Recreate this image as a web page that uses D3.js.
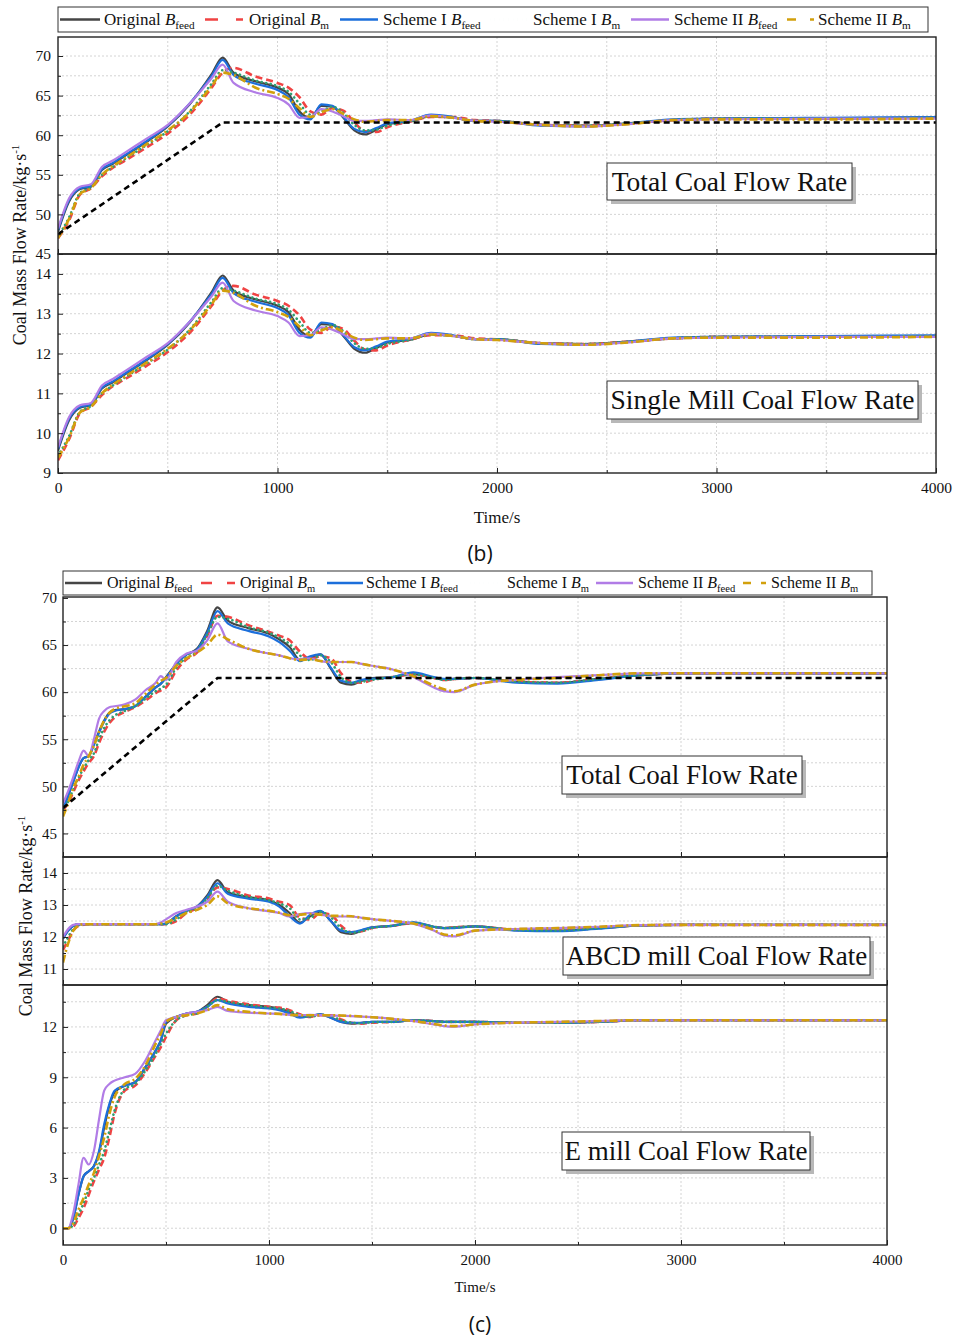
<!DOCTYPE html>
<html>
<head>
<meta charset="utf-8">
<script src="https://cdn.jsdelivr.net/npm/d3@7"></script>
<style>
  body { margin: 0; background: #fff; }
  svg { display: block; }
  text { font-family: "Liberation Serif", "Times New Roman", serif; fill: #111; }
</style>
</head>
<body>
<div id="chart"></div>
<script>
// ---- series ----
const seriesNames = ["Original", "Original", "Scheme I", "Scheme I", "Scheme II", "Scheme II"];
const seriesSubs = ["feed", "m", "feed", "m", "feed", "m"];
const seriesColors = ["#454545", "#f04343", "#1c6fdb", "#2f9f72", "#b17ce6", "#d2a00c"];
const seriesDash = [null, "7,4", null, "0.1,4.5", null, "8,3,2,3"];

// ---- figure (b) ----
const timeB = [0, 50, 100, 150, 200, 250, 300, 400, 500, 600, 700, 750, 800, 900, 1000, 1050, 1100, 1150, 1200, 1250, 1300, 1350, 1400, 1450, 1500, 1600, 1700, 1800, 1900, 2000, 2200, 2400, 2600, 2800, 3000, 3500, 4000];
const totalB = [
  [47.8, 51.6, 53.2, 53.5, 55.6, 56.4, 57.3, 59.1, 61.1, 63.9, 67.7, 69.8, 67.9, 66.8, 66.0, 65.2, 63.0, 62.2, 63.7, 63.6, 62.2, 60.6, 60.1, 60.7, 61.4, 61.7, 62.4, 62.2, 61.8, 61.8, 61.3, 61.2, 61.5, 61.9, 62.1, 62.1, 62.2],
  [47.0, 49.2, 52.5, 53.3, 54.8, 55.9, 56.7, 58.4, 60.2, 62.6, 66.0, 67.9, 68.5, 67.4, 66.6, 66.0, 64.8, 63.0, 62.6, 63.4, 63.1, 61.6, 60.5, 60.4, 61.0, 61.7, 62.3, 62.3, 61.9, 61.8, 61.3, 61.2, 61.5, 61.9, 62.1, 62.1, 62.2],
  [48.0, 51.8, 53.3, 53.6, 55.7, 56.5, 57.4, 59.2, 61.2, 64.0, 67.5, 69.5, 67.6, 66.5, 65.7, 64.8, 62.6, 62.0, 63.9, 63.7, 62.3, 60.8, 60.4, 60.9, 61.5, 61.8, 62.6, 62.3, 61.8, 61.8, 61.2, 61.1, 61.5, 62.0, 62.1, 62.2, 62.3],
  [47.2, 49.6, 52.7, 53.4, 55.0, 56.0, 56.9, 58.7, 60.5, 63.0, 66.5, 68.2, 67.9, 66.9, 66.2, 65.5, 64.0, 62.6, 63.0, 63.6, 62.8, 61.3, 60.6, 60.7, 61.2, 61.7, 62.4, 62.2, 61.8, 61.8, 61.3, 61.2, 61.5, 61.9, 62.1, 62.1, 62.2],
  [48.2, 52.0, 53.5, 53.8, 56.0, 56.8, 57.7, 59.5, 61.3, 64.0, 67.2, 68.9, 66.6, 65.4, 64.7, 63.9, 62.2, 62.3, 63.3, 63.0, 62.4, 61.8, 61.8, 61.9, 62.0, 61.9, 62.5, 62.2, 61.8, 61.7, 61.3, 61.1, 61.4, 61.9, 62.0, 62.1, 62.1],
  [47.0, 49.4, 52.6, 53.3, 55.0, 56.1, 57.0, 58.8, 60.6, 62.9, 66.2, 67.9, 67.6, 66.0, 65.2, 64.6, 63.4, 62.3, 62.9, 63.3, 62.7, 62.0, 61.7, 61.8, 61.9, 61.9, 62.4, 62.2, 61.8, 61.7, 61.3, 61.1, 61.4, 61.9, 62.0, 62.0, 62.1]
];
const singleB = [
  [9.56, 10.32, 10.64, 10.70, 11.12, 11.28, 11.46, 11.82, 12.22, 12.78, 13.54, 13.96, 13.58, 13.36, 13.20, 13.04, 12.60, 12.44, 12.74, 12.72, 12.44, 12.12, 12.02, 12.14, 12.28, 12.34, 12.48, 12.44, 12.36, 12.36, 12.26, 12.24, 12.30, 12.38, 12.42, 12.42, 12.44],
  [9.32, 9.84, 10.50, 10.66, 10.96, 11.18, 11.34, 11.68, 12.04, 12.52, 13.20, 13.58, 13.70, 13.48, 13.32, 13.20, 12.96, 12.60, 12.52, 12.68, 12.62, 12.32, 12.10, 12.08, 12.20, 12.34, 12.46, 12.46, 12.38, 12.36, 12.26, 12.24, 12.30, 12.38, 12.42, 12.42, 12.44],
  [9.60, 10.36, 10.66, 10.72, 11.14, 11.30, 11.48, 11.84, 12.24, 12.80, 13.50, 13.90, 13.52, 13.30, 13.14, 12.96, 12.52, 12.40, 12.78, 12.74, 12.46, 12.16, 12.08, 12.18, 12.30, 12.36, 12.52, 12.46, 12.36, 12.36, 12.24, 12.22, 12.30, 12.40, 12.42, 12.44, 12.46],
  [9.44, 9.92, 10.54, 10.68, 11.00, 11.20, 11.38, 11.74, 12.10, 12.60, 13.30, 13.64, 13.58, 13.38, 13.24, 13.10, 12.80, 12.52, 12.60, 12.72, 12.56, 12.26, 12.12, 12.14, 12.24, 12.34, 12.48, 12.44, 12.36, 12.36, 12.26, 12.24, 12.30, 12.38, 12.42, 12.42, 12.44],
  [9.64, 10.40, 10.70, 10.76, 11.20, 11.36, 11.54, 11.90, 12.26, 12.80, 13.44, 13.78, 13.32, 13.08, 12.94, 12.78, 12.44, 12.46, 12.66, 12.60, 12.48, 12.36, 12.36, 12.38, 12.40, 12.38, 12.50, 12.44, 12.36, 12.34, 12.26, 12.22, 12.28, 12.38, 12.40, 12.42, 12.42],
  [9.38, 9.88, 10.52, 10.66, 11.00, 11.22, 11.40, 11.76, 12.12, 12.58, 13.24, 13.58, 13.52, 13.20, 13.04, 12.92, 12.68, 12.46, 12.58, 12.66, 12.54, 12.40, 12.34, 12.36, 12.38, 12.38, 12.48, 12.44, 12.36, 12.34, 12.26, 12.22, 12.28, 12.38, 12.40, 12.40, 12.42]
];
const targetTimeB = [0, 750, 4000];
const targetB = [47.5, 61.6, 61.6];

// ---- figure (c) ----
const timeC = [0, 25, 50, 75, 100, 125, 150, 175, 200, 225, 250, 300, 350, 400, 450, 475, 500, 550, 600, 650, 700, 750, 800, 900, 1000, 1050, 1100, 1150, 1200, 1250, 1300, 1350, 1400, 1450, 1500, 1600, 1700, 1800, 1850, 1900, 2000, 2200, 2400, 2600, 2800, 3000, 3500, 4000];
const totalC = [
  [47.6, 49.0, 50.5, 52.0, 53.0, 53.2, 54.5, 55.8, 57.0, 57.8, 58.1, 58.2, 58.5, 59.5, 60.5, 60.9, 61.6, 63.0, 64.0, 64.6, 66.5, 69.0, 67.6, 66.8, 66.2, 65.6, 64.8, 63.4, 63.6, 64.0, 62.5, 61.0, 60.8, 61.2, 61.5, 61.6, 61.9, 61.5, 61.3, 61.4, 61.5, 61.1, 61.0, 61.4, 61.8, 62.0, 62.0, 62.0],
  [47.5, 48.2, 49.4, 50.6, 51.6, 52.5, 53.2, 54.6, 55.8, 56.7, 57.3, 57.9, 58.4, 59.1, 59.9, 60.2, 60.5, 62.3, 63.5, 64.2, 66.0, 68.1, 68.0, 67.1, 66.4, 66.0, 65.5, 64.3, 63.5, 63.8, 63.6, 62.0, 61.1, 61.0, 61.3, 61.6, 61.9, 61.5, 61.3, 61.4, 61.5, 61.1, 61.0, 61.4, 61.8, 62.0, 62.0, 62.0],
  [47.6, 49.0, 50.5, 52.0, 53.0, 53.2, 54.4, 55.7, 56.9, 57.7, 58.0, 58.2, 58.5, 59.5, 60.5, 60.9, 61.5, 63.0, 64.0, 64.5, 66.3, 68.6, 67.3, 66.5, 65.9, 65.3, 64.4, 63.3, 63.8, 64.0, 62.6, 61.2, 61.0, 61.3, 61.4, 61.6, 62.1, 61.6, 61.4, 61.4, 61.5, 61.0, 60.9, 61.3, 61.8, 62.0, 62.0, 62.0],
  [47.5, 48.4, 49.7, 50.9, 51.9, 52.8, 53.5, 55.0, 56.2, 57.0, 57.5, 58.0, 58.5, 59.3, 60.1, 60.4, 60.8, 62.6, 63.7, 64.3, 66.1, 68.0, 67.8, 66.9, 66.3, 65.8, 65.1, 63.9, 63.4, 63.9, 63.2, 61.6, 61.0, 61.1, 61.3, 61.6, 61.9, 61.5, 61.3, 61.4, 61.5, 61.1, 61.0, 61.4, 61.8, 62.0, 62.0, 62.0],
  [48.2, 49.5, 51.0, 52.6, 53.8, 53.2, 55.0, 57.2, 58.0, 58.4, 58.5, 58.7, 59.2, 60.2, 61.0, 61.7, 61.3, 63.2, 64.1, 64.4, 65.5, 67.3, 65.4, 64.6, 64.1, 63.9, 63.6, 63.5, 63.6, 63.3, 63.2, 63.2, 63.2, 63.0, 62.8, 62.4, 61.6, 60.5, 60.1, 60.0, 60.8, 61.3, 61.6, 61.8, 62.0, 62.0, 62.0, 62.0],
  [46.8, 48.2, 49.8, 51.0, 52.3, 53.2, 54.3, 55.8, 57.0, 57.8, 58.2, 58.5, 58.8, 59.8, 60.8, 61.2, 61.5, 62.8, 63.6, 64.2, 65.0, 66.1, 65.6, 64.6, 64.1, 63.9, 63.6, 63.4, 63.5, 63.3, 63.2, 63.2, 63.2, 63.0, 62.8, 62.4, 61.7, 60.7, 60.3, 60.1, 60.8, 61.3, 61.5, 61.8, 62.0, 62.0, 62.0, 62.0]
];
const abcdC = [
  [11.95, 12.2, 12.35, 12.4, 12.4, 12.4, 12.4, 12.4, 12.4, 12.4, 12.4, 12.4, 12.4, 12.4, 12.4, 12.4, 12.42, 12.65, 12.82, 12.95, 13.3, 13.78, 13.4, 13.25, 13.15, 13.0, 12.75, 12.45, 12.65, 12.8, 12.5, 12.15, 12.1, 12.2, 12.3, 12.35, 12.44, 12.32, 12.28, 12.3, 12.33, 12.22, 12.2, 12.28, 12.36, 12.38, 12.38, 12.38],
  [11.6, 11.9, 12.2, 12.35, 12.38, 12.4, 12.4, 12.4, 12.4, 12.4, 12.4, 12.4, 12.4, 12.4, 12.4, 12.4, 12.4, 12.5, 12.75, 12.9, 13.2, 13.55, 13.5, 13.3, 13.2, 13.1, 13.0, 12.6, 12.55, 12.75, 12.7, 12.35, 12.15, 12.18, 12.28, 12.35, 12.44, 12.32, 12.28, 12.3, 12.33, 12.22, 12.2, 12.28, 12.36, 12.38, 12.38, 12.38],
  [11.95, 12.2, 12.35, 12.4, 12.4, 12.4, 12.4, 12.4, 12.4, 12.4, 12.4, 12.4, 12.4, 12.4, 12.4, 12.4, 12.42, 12.65, 12.82, 12.95, 13.25, 13.68, 13.35, 13.2, 13.1, 12.95, 12.65, 12.42, 12.7, 12.82, 12.5, 12.2, 12.15, 12.22, 12.3, 12.35, 12.46, 12.32, 12.28, 12.28, 12.33, 12.2, 12.18, 12.26, 12.36, 12.38, 12.38, 12.38],
  [11.7, 12.0, 12.25, 12.37, 12.4, 12.4, 12.4, 12.4, 12.4, 12.4, 12.4, 12.4, 12.4, 12.4, 12.4, 12.4, 12.4, 12.55, 12.78, 12.9, 13.2, 13.6, 13.45, 13.25, 13.15, 13.05, 12.9, 12.55, 12.6, 12.78, 12.62, 12.28, 12.13, 12.18, 12.28, 12.35, 12.44, 12.32, 12.28, 12.3, 12.33, 12.22, 12.2, 12.28, 12.36, 12.38, 12.38, 12.38],
  [12.0, 12.25, 12.38, 12.4, 12.4, 12.4, 12.4, 12.4, 12.4, 12.4, 12.4, 12.4, 12.4, 12.4, 12.4, 12.45, 12.55, 12.75, 12.85, 12.95, 13.1, 13.42, 13.1, 12.9, 12.8, 12.75, 12.64, 12.72, 12.75, 12.7, 12.65, 12.64, 12.64, 12.6, 12.56, 12.5, 12.42, 12.2, 12.05, 12.02, 12.2, 12.25, 12.28, 12.32, 12.37, 12.38, 12.38, 12.38],
  [11.2, 11.8, 12.2, 12.35, 12.4, 12.4, 12.4, 12.4, 12.4, 12.4, 12.4, 12.4, 12.4, 12.4, 12.4, 12.42, 12.45, 12.6, 12.75, 12.85, 13.0, 13.27, 13.05, 12.9, 12.82, 12.76, 12.68, 12.7, 12.72, 12.7, 12.66, 12.66, 12.65, 12.6, 12.56, 12.5, 12.42, 12.22, 12.08, 12.05, 12.2, 12.25, 12.28, 12.32, 12.37, 12.38, 12.38, 12.38]
];
const eMillC = [
  [0, 0, 0.6, 2.0, 3.1, 3.4, 3.7, 4.5, 6.0, 7.3, 8.1, 8.5, 8.7, 9.6, 10.6, 11.2, 12.2, 12.6, 12.8, 12.9, 13.3, 13.8, 13.5, 13.3, 13.2, 13.1, 12.9, 12.6, 12.65, 12.75, 12.55, 12.3, 12.2, 12.25, 12.3, 12.3, 12.4, 12.35, 12.3, 12.3, 12.3, 12.25, 12.25, 12.3, 12.4, 12.4, 12.4, 12.4],
  [0, 0, 0.1, 0.6, 1.2, 2.0, 2.8, 3.5, 4.2, 5.4, 6.8, 8.2, 8.5, 9.3, 10.3, 10.8, 11.4, 12.4, 12.7, 12.8, 13.2, 13.7, 13.55, 13.35, 13.2, 13.15, 13.0, 12.75, 12.6, 12.7, 12.7, 12.45, 12.25, 12.2, 12.25, 12.3, 12.4, 12.35, 12.3, 12.3, 12.3, 12.25, 12.25, 12.3, 12.4, 12.4, 12.4, 12.4],
  [0, 0, 0.6, 2.0, 3.1, 3.4, 3.7, 4.6, 6.2, 7.4, 8.2, 8.5, 8.7, 9.6, 10.6, 11.2, 12.3, 12.6, 12.8, 12.9, 13.2, 13.6, 13.4, 13.2, 13.1, 13.0, 12.8, 12.55, 12.65, 12.75, 12.55, 12.3, 12.25, 12.25, 12.3, 12.3, 12.4, 12.35, 12.3, 12.3, 12.3, 12.25, 12.25, 12.3, 12.4, 12.4, 12.4, 12.4],
  [0, 0, 0.2, 0.8, 1.5, 2.3, 3.0, 3.8, 4.6, 5.8, 7.0, 8.3, 8.6, 9.4, 10.4, 11.0, 11.6, 12.4, 12.7, 12.8, 13.2, 13.6, 13.5, 13.3, 13.15, 13.1, 12.95, 12.7, 12.6, 12.72, 12.65, 12.4, 12.25, 12.22, 12.28, 12.3, 12.4, 12.35, 12.3, 12.3, 12.3, 12.25, 12.25, 12.3, 12.4, 12.4, 12.4, 12.4],
  [0, 0, 0.9, 2.6, 4.2, 3.8, 4.6, 6.5, 8.2, 8.6, 8.8, 9.0, 9.2, 10.0, 11.2, 11.8, 12.4, 12.6, 12.8, 12.9, 13.0, 13.2, 12.95, 12.85, 12.8, 12.78, 12.72, 12.7, 12.72, 12.7, 12.68, 12.66, 12.65, 12.62, 12.58, 12.48, 12.35, 12.15, 12.05, 12.02, 12.15, 12.25, 12.3, 12.35, 12.4, 12.4, 12.4, 12.4],
  [0, 0, 0.3, 1.1, 1.8, 2.6, 3.3, 4.3, 5.4, 6.8, 7.8, 8.6, 8.9, 9.7, 11.0, 11.6, 12.3, 12.6, 12.7, 12.8, 13.0, 13.3, 13.05, 12.9, 12.8, 12.78, 12.72, 12.7, 12.7, 12.7, 12.7, 12.68, 12.66, 12.62, 12.58, 12.48, 12.35, 12.18, 12.08, 12.05, 12.15, 12.25, 12.3, 12.35, 12.4, 12.4, 12.4, 12.4]
];
const targetTimeC = [0, 750, 4000];
const targetC = [47.7, 61.5, 61.5];

const xTicks = [0, 1000, 2000, 3000, 4000];
const xMinorTicks = [500, 1500, 2500, 3500];

// ---- drawing ----
const W = 954, H = 1340;
const svg = d3.select("#chart").append("svg").attr("width", W).attr("height", H);
let clipId = 0;

function bLabel(textSel, name, sub, fs) {
  textSel.append("tspan").text(name + " ");
  textSel.append("tspan").attr("font-style", "italic").text("B");
  textSel.append("tspan").attr("font-size", fs * 0.66).attr("dy", fs * 0.28).text(sub);
}

function drawLegend(fig) {
  const lg = fig.legend;
  const g = svg.append("g");
  g.append("rect").attr("x", lg.x).attr("y", lg.y).attr("width", lg.w).attr("height", lg.h)
    .attr("fill", "#fff").attr("stroke", "#333").attr("stroke-width", 1);
  const cy = lg.y + lg.h / 2;
  const sampleDash = [null, lg.redDash, null, "0.1,4.5", null, lg.goldDash];
  seriesNames.forEach((name, i) => {
    g.append("line")
      .attr("x1", lg.lines[i][0]).attr("x2", lg.lines[i][1]).attr("y1", cy).attr("y2", cy)
      .attr("stroke", seriesColors[i]).attr("stroke-width", 2.4)
      .attr("stroke-dasharray", sampleDash[i])
      .attr("stroke-opacity", i === 3 ? 0.1 : 1);
    const t = g.append("text").attr("x", lg.text[i]).attr("y", cy + lg.fs * 0.3)
      .attr("font-size", lg.fs);
    bLabel(t, name, seriesSubs[i], lg.fs);
  });
}

function drawPanel(fig, p, x) {
  const y = d3.scaleLinear().domain(p.domain).range([p.bottom, p.top]);
  const g = svg.append("g");
  const id = "clip" + (clipId++);
  svg.append("clipPath").attr("id", id).append("rect")
    .attr("x", fig.left).attr("y", p.top).attr("width", fig.right - fig.left).attr("height", p.bottom - p.top);

  // grid
  const gridVals = d3.range(Math.ceil(p.domain[0] / p.minor) * p.minor, p.domain[1], p.minor)
    .filter(v => y(v) < p.bottom - 1 && y(v) > p.top + 1);
  g.selectAll(".hg").data(gridVals).enter().append("line")
    .attr("x1", fig.left).attr("x2", fig.right).attr("y1", d => y(d)).attr("y2", d => y(d))
    .attr("stroke", "#cfcfcf").attr("stroke-width", 0.9).attr("stroke-dasharray", "2,2");
  g.selectAll(".vg").data(d3.range(500, 4000, 500)).enter().append("line")
    .attr("x1", d => x(d)).attr("x2", d => x(d)).attr("y1", p.top).attr("y2", p.bottom)
    .attr("stroke", "#cfcfcf").attr("stroke-width", 0.9).attr("stroke-dasharray", "2,2");

  // series
  const lines = g.append("g").attr("clip-path", `url(#${id})`);
  const line = d3.line().x((d, i) => x(p.time[i])).y(d => y(d)).curve(d3.curveMonotoneX);
  p.data.forEach((vals, i) => {
    lines.append("path").attr("d", line(vals)).attr("fill", "none")
      .attr("stroke", seriesColors[i])
      .attr("stroke-width", seriesDash[i] ? 2.6 : 2.2)
      .attr("stroke-dasharray", seriesDash[i])
      .attr("stroke-linecap", i === 3 ? "round" : "butt");
  });
  if (p.target) {
    const tl = d3.line().x((d, i) => x(p.target.time[i])).y(d => y(d));
    lines.append("path").attr("d", tl(p.target.vals)).attr("fill", "none")
      .attr("stroke", "#000").attr("stroke-width", 2.6).attr("stroke-dasharray", "6,4");
  }

  // frame
  g.append("rect").attr("x", fig.left).attr("y", p.top)
    .attr("width", fig.right - fig.left).attr("height", p.bottom - p.top)
    .attr("fill", "none").attr("stroke", "#222").attr("stroke-width", 1.4);

  // y axis
  const ya = g.append("g").attr("transform", `translate(${fig.left},0)`)
    .call(d3.axisLeft(y).tickValues(p.major).tickFormat(d3.format("d"))
      .tickSizeInner(-5).tickSizeOuter(0).tickPadding(fig.yPad));
  g.append("g").attr("transform", `translate(${fig.left},0)`)
    .call(d3.axisLeft(y).tickValues(gridVals.filter(v => !p.major.includes(v))).tickSizeInner(-3).tickSizeOuter(0).tickFormat(""))
    .call(a => a.select(".domain").remove());
  ya.select(".domain").remove();
  ya.selectAll("text").attr("font-size", fig.tickFs).attr("fill", "#111");

  // x axis
  const xa = g.append("g").attr("transform", `translate(0,${p.bottom})`)
    .call(d3.axisBottom(x).tickValues(xTicks).tickSizeInner(-5).tickSizeOuter(0).tickPadding(fig.xPad)
      .tickFormat(p.last ? d3.format("d") : ""));
  xa.select(".domain").remove();
  xa.selectAll("text").attr("font-size", fig.tickFs).attr("fill", "#111");
  const xm = g.append("g").attr("transform", `translate(0,${p.bottom})`)
    .call(d3.axisBottom(x).tickValues(xMinorTicks).tickSizeInner(-3).tickSizeOuter(0).tickFormat(""));
  xm.select(".domain").remove();
  g.selectAll(".tick line").attr("stroke", "#222");

  // label box
  const b = p.box;
  g.append("rect").attr("x", b.x + 4).attr("y", b.y + 4).attr("width", b.w).attr("height", b.h).attr("fill", "#b8b8b8");
  g.append("rect").attr("x", b.x).attr("y", b.y).attr("width", b.w).attr("height", b.h)
    .attr("fill", "#fff").attr("stroke", "#333").attr("stroke-width", 1);
  g.append("text").attr("x", b.x + b.w / 2).attr("y", b.y + b.h / 2 + b.fs * 0.34)
    .attr("text-anchor", "middle").attr("font-size", b.fs).text(b.text);
}

function drawFigure(fig) {
  const x = d3.scaleLinear().domain([0, 4000]).range([fig.left, fig.right]);
  fig.panels.forEach(p => drawPanel(fig, p, x));
  drawLegend(fig);

  const yl = svg.append("text")
    .attr("transform", `translate(${fig.yLabel.x},${fig.yLabel.y}) rotate(-90)`)
    .attr("text-anchor", "middle").attr("dy", "0.35em").attr("font-size", 18);
  yl.append("tspan").text("Coal Mass Flow Rate/kg·s");
  yl.append("tspan").attr("font-size", 11).attr("dy", -7).text("-1");

  svg.append("text").attr("x", fig.xLabel.x).attr("y", fig.xLabel.y).attr("text-anchor", "middle")
    .attr("font-size", fig.xLabel.fs).text("Time/s");
  svg.append("text").attr("x", fig.caption.x).attr("y", fig.caption.y).attr("text-anchor", "middle")
    .style("font-family", "'Open Sans', 'Noto Sans', sans-serif").attr("font-size", 21).text(fig.caption.text);
}

drawFigure({
  left: 58, right: 936, tickFs: 15.5, yPad: 7, xPad: 9,
  legend: { x: 58, y: 7, w: 870, h: 25, fs: 17,
    lines: [[60, 100], [205, 243], [340, 378], [490, 528], [631, 669], [787, 814]],
    text: [104, 249, 383, 533, 674, 818], redDash: "13,18", goldDash: "9,14" },
  yLabel: { x: 20, y: 245 },
  xLabel: { x: 497, y: 523, fs: 17 },
  caption: { x: 480, y: 561, text: "(b)" },
  panels: [
    { top: 37, bottom: 254, domain: [45, 72.4], major: [45, 50, 55, 60, 65, 70], minor: 2.5,
      time: timeB, data: totalB, target: { time: targetTimeB, vals: targetB },
      box: { x: 607, y: 163, w: 245, h: 37, fs: 27.5, text: "Total Coal Flow Rate" } },
    { top: 254, bottom: 473, domain: [9, 14.5], major: [9, 10, 11, 12, 13, 14], minor: 0.5, last: true,
      time: timeB, data: singleB,
      box: { x: 607, y: 381, w: 311, h: 38, fs: 27.5, text: "Single Mill Coal Flow Rate" } }
  ]
});

drawFigure({
  left: 63, right: 887, tickFs: 15, yPad: 6, xPad: 9,
  legend: { x: 63, y: 571, w: 809, h: 24, fs: 16,
    lines: [[65, 102], [201, 235], [327, 363], [470, 503], [596, 633], [743, 766]],
    text: [107, 240, 366, 507, 638, 771], redDash: "11,15", goldDash: "8,10,5" },
  yLabel: { x: 26, y: 916 },
  xLabel: { x: 475, y: 1292, fs: 15 },
  caption: { x: 480, y: 1332, text: "(c)" },
  panels: [
    { top: 597, bottom: 857, domain: [42.5, 70.1], major: [45, 50, 55, 60, 65, 70], minor: 2.5,
      time: timeC, data: totalC, target: { time: targetTimeC, vals: targetC },
      box: { x: 562, y: 756, w: 240, h: 38, fs: 27, text: "Total Coal Flow Rate" } },
    { top: 857, bottom: 985, domain: [10.5, 14.5], major: [11, 12, 13, 14], minor: 0.5,
      time: timeC, data: abcdC,
      box: { x: 563, y: 937, w: 307, h: 38, fs: 27, text: "ABCD mill Coal Flow Rate" } },
    { top: 985, bottom: 1245, domain: [-1, 14.5], major: [0, 3, 6, 9, 12], minor: 1.5, last: true,
      time: timeC, data: eMillC,
      box: { x: 562, y: 1132, w: 248, h: 38, fs: 27, text: "E mill Coal Flow Rate" } }
  ]
});
</script>
</body>
</html>
